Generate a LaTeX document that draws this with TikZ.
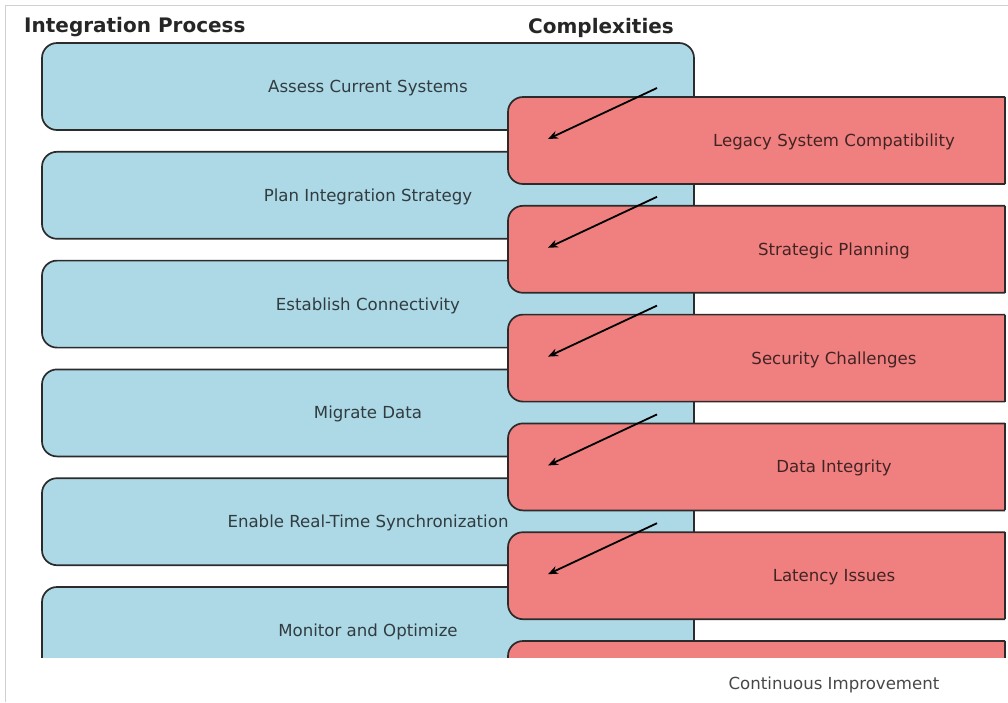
\documentclass[tikz,border=0pt]{standalone}
\usepackage{fontspec}
\setmainfont{DejaVu Sans}
\usetikzlibrary{arrows.meta}
\definecolor{boxblue}{HTML}{ADD8E6}
\definecolor{boxred}{HTML}{F08080}
\definecolor{edgec}{HTML}{2B2B2B}
\definecolor{framec}{HTML}{D0D0D0}
\tikzset{
  procbox/.style={draw=edgec, line width=1.7pt, fill=boxblue, rounded corners=15pt},
  cplxbox/.style={draw=edgec, line width=1.7pt, fill=boxred, rounded corners=15pt},
  lbl/.style={font=\fontsize{16.6}{19}\selectfont, text=black, text opacity=0.72, inner sep=0pt},
  hdr/.style={font=\fontsize{20}{23}\selectfont\bfseries, text=black, text opacity=0.85, inner sep=0pt},
  flowarrow/.style={draw=black, line width=1.8pt, -{Stealth[length=10pt,width=8pt]}}
}
\begin{document}
\begin{tikzpicture}[x=1pt,y=-1pt]
\useasboundingbox (0,0) rectangle (1008,702);
\fill[white] (0,0) rectangle (1008,702);
\draw[framec, line width=1pt] (5,702) -- (5,5) -- (1008,5);
\node[hdr, anchor=west] (h1) at (24,27.5) {Integration Process};
\node[hdr] (h2) at (601,27.5) {Complexities};
\begin{scope}
\clip (5,5) rectangle (1008,657);
\foreach \i/\t in {0/Assess Current Systems,1/Plan Integration Strategy,2/Establish Connectivity,3/Migrate Data,4/Enable Real-Time Synchronization,5/Monitor and Optimize}{
  \pgfmathsetmacro{\yy}{43+108.8*\i}
  \draw[procbox] (42,\yy) rectangle (694,\yy+87);
  \node[lbl] (p\i) at (368,\yy+45) {\t};
}
\foreach \i/\t in {0/Legacy System Compatibility,1/Strategic Planning,2/Security Challenges,3/Data Integrity,4/Latency Issues,5/{}}{
  \pgfmathsetmacro{\yy}{97+108.8*\i}
  \begin{scope}
    \clip (400,\yy-5) rectangle (1005,\yy+92);
    \draw[cplxbox] (508,\yy) rectangle (1040,\yy+87);
  \end{scope}
  \draw[edgec, line width=1.7pt] (1005,\yy) -- (1005,\yy+87);
  \node[lbl] (c\i) at (834,\yy+45) {\t};
}
\foreach \i in {0,...,4}{
  \pgfmathsetmacro{\yy}{88+108.8*\i}
  \coordinate (s\i) at (657,\yy);
  \coordinate (e\i) at (548,\yy+51);
  \draw[flowarrow] (s\i) -- (e\i);
}
\end{scope}
\node[lbl] (ci) at (834,685) {Continuous Improvement};
\end{tikzpicture}
\end{document}
